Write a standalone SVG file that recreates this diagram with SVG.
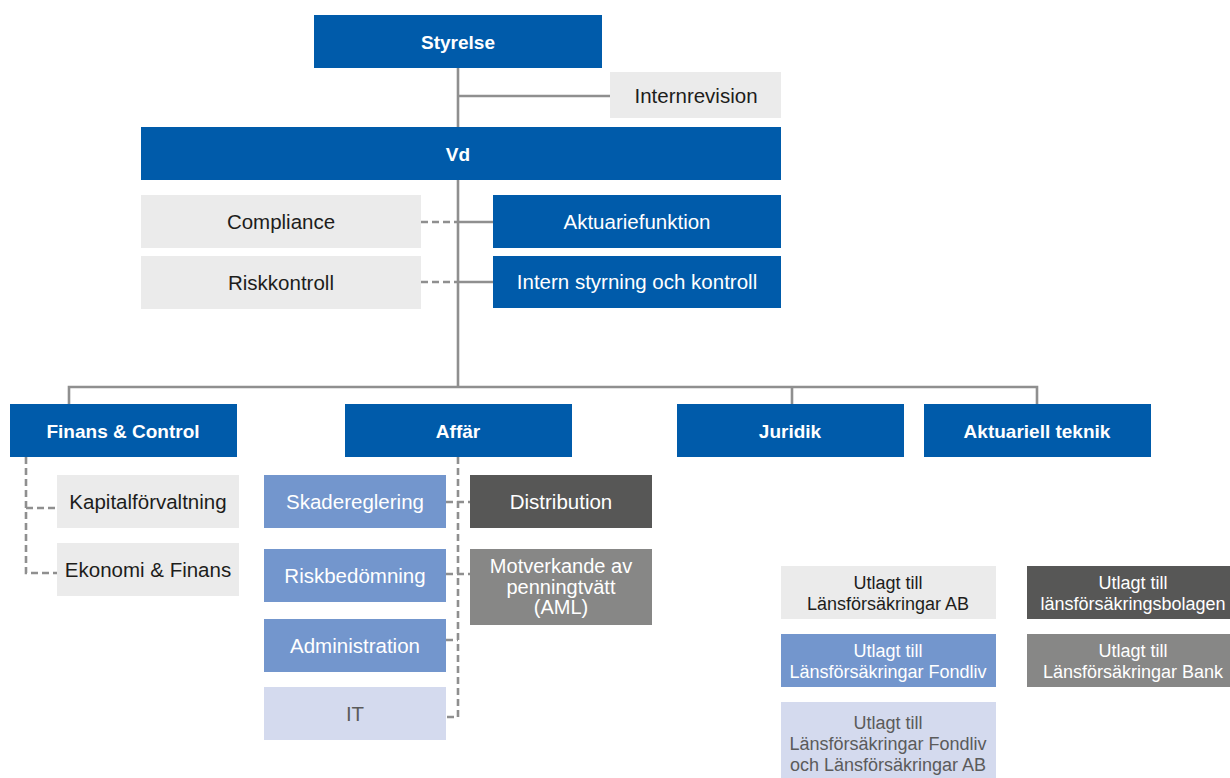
<svg xmlns="http://www.w3.org/2000/svg" width="1230" height="778" viewBox="0 0 1230 778">
<style>
text{font-family:"Liberation Sans",Arial,sans-serif;font-size:20.5px;text-anchor:middle}
.b{font-weight:bold;fill:#fff;font-size:19px}
.dk{fill:#005BAA}.lg{fill:#EBEBEB}.mb{fill:#7396CD}.lv{fill:#D4DAEE}.dg{fill:#575756}.mg{fill:#878786}
.tw{fill:#fff}.td{fill:#1d1d1b}.tg{fill:#5b5b5b}
.ln{stroke:#8f8f8f;stroke-width:2.6;fill:none}
.ds{stroke:#8f8f8f;stroke-width:2.6;fill:none;stroke-dasharray:7 4}
.sm{font-size:20px}
.lgd{font-size:18px}
</style>
<rect width="1230" height="778" fill="#fff"/>
<g id="connectors">
<path class="ln" d="M458 68V387M458 96H610M458 222H493M458 282H493"/>
<path class="ds" d="M421 222H458M421 282H458"/>
<path class="ln" d="M69 404V387H1037V404M792 387V404"/>
<path class="ds" d="M26 457V573H57M26 508H57"/>
<path class="ds" d="M458 457V717H446M446 502H470M446 574H470M446 640H458"/>
</g>
<g id="styrelse"><rect class="dk" x="314" y="15" width="288" height="53"/><text class="b" x="458" y="48.5">Styrelse</text></g>
<g id="internrevision"><rect class="lg" x="610" y="72" width="171" height="46"/><text class="td" x="696" y="102.5">Internrevision</text></g>
<g id="vd"><rect class="dk" x="141" y="127" width="640" height="53"/><text class="b" x="458" y="161">Vd</text></g>
<g id="compliance"><rect class="lg" x="141" y="195" width="280" height="53"/><text class="td" x="281" y="229">Compliance</text></g>
<g id="aktuariefunktion"><rect class="dk" x="493" y="195" width="288" height="53"/><text class="tw" x="637" y="229">Aktuariefunktion</text></g>
<g id="riskkontroll"><rect class="lg" x="141" y="256" width="280" height="53"/><text class="td" x="281" y="290">Riskkontroll</text></g>
<g id="intern-styrning"><rect class="dk" x="493" y="256" width="288" height="52"/><text class="tw" x="637" y="289">Intern styrning och kontroll</text></g>
<g id="finans-control"><rect class="dk" x="10" y="404" width="227" height="53"/><text class="b" x="123" y="437.5">Finans &amp; Control</text></g>
<g id="affar"><rect class="dk" x="345" y="404" width="227" height="53"/><text class="b" x="458" y="437.5">Affär</text></g>
<g id="juridik"><rect class="dk" x="677" y="404" width="227" height="53"/><text class="b" x="790" y="437.5">Juridik</text></g>
<g id="aktuariell-teknik"><rect class="dk" x="924" y="404" width="227" height="53"/><text class="b" x="1037" y="437.5">Aktuariell teknik</text></g>
<g id="kapitalforvaltning"><rect class="lg" x="57" y="475" width="182" height="53"/><text class="td" x="148" y="509">Kapitalförvaltning</text></g>
<g id="ekonomi-finans"><rect class="lg" x="57" y="543" width="182" height="53"/><text class="td" x="148" y="577">Ekonomi &amp; Finans</text></g>
<g id="skadereglering"><rect class="mb" x="264" y="475" width="182" height="53"/><text class="tw" x="355" y="509">Skadereglering</text></g>
<g id="riskbedomning"><rect class="mb" x="264" y="549" width="182" height="53"/><text class="tw" x="355" y="583">Riskbedömning</text></g>
<g id="administration"><rect class="mb" x="264" y="619" width="182" height="53"/><text class="tw" x="355" y="653">Administration</text></g>
<g id="it"><rect class="lv" x="264" y="687" width="182" height="53"/><text class="tg" x="355" y="721">IT</text></g>
<g id="distribution"><rect class="dg" x="470" y="475" width="182" height="53"/><text class="tw" x="561" y="509">Distribution</text></g>
<g id="aml"><rect class="mg" x="470" y="549" width="182" height="76"/><text class="tw sm" x="561" y="573">Motverkande av<tspan x="561" dy="20.5">penningtvätt</tspan><tspan x="561" dy="20.5">(AML)</tspan></text></g>
<g id="legend-ab"><rect class="lg" x="781" y="566" width="215" height="53"/><text class="td lgd" x="888" y="588.5">Utlagt till<tspan x="888" dy="21">Länsförsäkringar AB</tspan></text></g>
<g id="legend-bolagen"><rect class="dg" x="1027" y="566" width="215" height="53"/><text class="tw lgd" x="1133" y="588.5">Utlagt till<tspan x="1133" dy="21">länsförsäkringsbolagen</tspan></text></g>
<g id="legend-fondliv"><rect class="mb" x="781" y="634" width="215" height="53"/><text class="tw lgd" x="888" y="656.5">Utlagt till<tspan x="888" dy="21">Länsförsäkringar Fondliv</tspan></text></g>
<g id="legend-bank"><rect class="mg" x="1027" y="634" width="215" height="53"/><text class="tw lgd" x="1133" y="656.5">Utlagt till<tspan x="1133" dy="21">Länsförsäkringar Bank</tspan></text></g>
<g id="legend-fondliv-ab"><rect class="lv" x="781" y="702" width="215" height="80"/><text class="tg lgd" x="888" y="728.5">Utlagt till<tspan x="888" dy="21">Länsförsäkringar Fondliv</tspan><tspan x="888" dy="21">och Länsförsäkringar AB</tspan></text></g>
</svg>
